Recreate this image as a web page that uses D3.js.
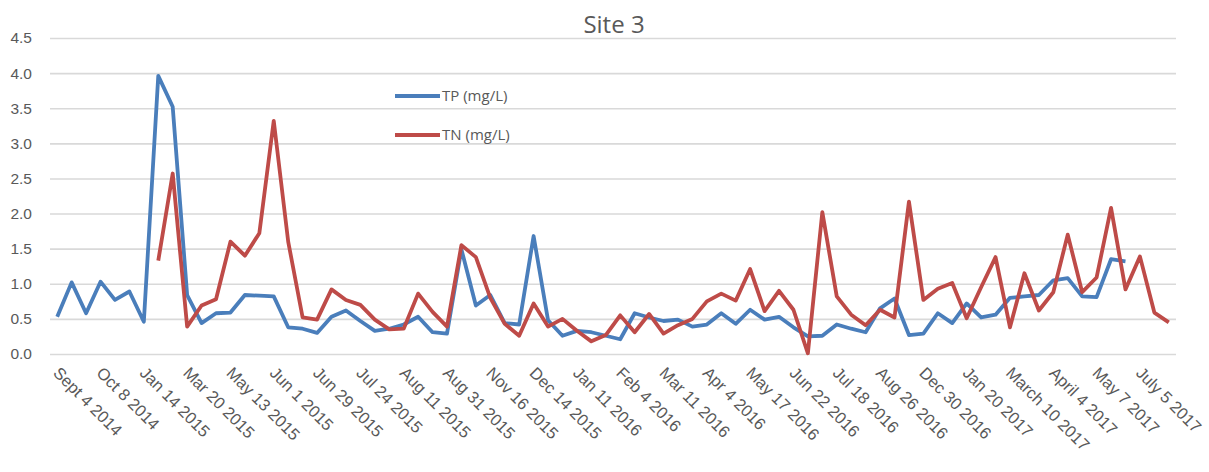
<!DOCTYPE html>
<html>
<head>
<meta charset="utf-8">
<script src="https://cdn.jsdelivr.net/npm/d3@7"></script>
<style>
  html, body { margin: 0; padding: 0; background: #fff; }
  svg { display: block; font-family: "Open Sans", "Noto Sans", sans-serif; }
</style>
</head>
<body>
<svg id="chart" width="1209" height="472"></svg>
<script>
// Sampling dates shown on the axis (every third sample carries a label)
const tickLabels = [
  "Sept 4 2014", "Oct 8 2014", "Jan 14 2015", "Mar 20 2015", "May 13 2015",
  "Jun 1 2015", "Jun 29 2015", "Jul 24 2015", "Aug 11 2015", "Aug 31 2015",
  "Nov 16 2015", "Dec 14 2015", "Jan 11 2016", "Feb 4 2016", "Mar 11 2016",
  "Apr 4 2016", "May 17 2016", "Jun 22 2016", "Jul 18 2016", "Aug 26 2016",
  "Dec 30 2016", "Jan 20 2017", "March 10 2017", "April 4 2017", "May 7 2017",
  "July 5 2017"
];
const labelEvery = 3;

// Total phosphorus (mg/L), one value per sample; null = not sampled
const tpValues = [
  0.53, 1.02, 0.58, 1.03, 0.77, 0.89, 0.46, 3.96, 3.52, 0.84,
  0.44, 0.58, 0.59, 0.84, 0.83, 0.82, 0.38, 0.36, 0.30, 0.53,
  0.62, 0.47, 0.33, 0.36, 0.42, 0.53, 0.31, 0.29, 1.49, 0.69,
  0.84, 0.44, 0.42, 1.68, 0.48, 0.26, 0.33, 0.31, 0.26, 0.21,
  0.58, 0.52, 0.47, 0.49, 0.39, 0.42, 0.58, 0.43, 0.63, 0.49,
  0.53, 0.38, 0.25, 0.26, 0.42, 0.36, 0.31, 0.65, 0.79, 0.27,
  0.29, 0.58, 0.44, 0.72, 0.52, 0.56, 0.80, 0.82, 0.84, 1.05,
  1.08, 0.82, 0.81, 1.35, 1.32, null, null, null
];

// Total nitrogen (mg/L), one value per sample; null = not sampled
const tnValues = [
  null, null, null, null, null, null, null, 1.33, 2.57, 0.39,
  0.69, 0.78, 1.60, 1.40, 1.72, 3.32, 1.60, 0.52, 0.49, 0.92,
  0.77, 0.70, 0.49, 0.35, 0.36, 0.86, 0.60, 0.39, 1.55, 1.38,
  0.80, 0.43, 0.26, 0.72, 0.39, 0.50, 0.33, 0.18, 0.27, 0.55,
  0.31, 0.57, 0.29, 0.41, 0.50, 0.75, 0.86, 0.76, 1.21, 0.61,
  0.90, 0.63, 0.01, 2.02, 0.82, 0.56, 0.41, 0.63, 0.52, 2.17,
  0.77, 0.93, 1.01, 0.51, 0.95, 1.38, 0.38, 1.15, 0.62, 0.88,
  1.70, 0.88, 1.09, 2.08, 0.92, 1.39, 0.59, 0.45
];

const yTicks = [0, 0.5, 1, 1.5, 2, 2.5, 3, 3.5, 4, 4.5];

const series = [
  { name: "TP (mg/L)", values: tpValues, color: "#4A7EBB" },
  { name: "TN (mg/L)", values: tnValues, color: "#BE4B48" }
];

const svg = d3.select("#chart");
const margin = { left: 50, right: 33, top: 38, bottom: 118 };
const W = 1209, H = 472;

const samples = d3.range(tpValues.length);
const x = d3.scaleBand().domain(samples).range([margin.left, W - margin.right]).padding(0);
const cx = i => x(i) + x.bandwidth() / 2;
const y = d3.scaleLinear().domain([0, 4.5]).range([H - margin.bottom, margin.top]);

const textColor = "#595959";

// Horizontal gridlines with value labels
const yAxis = d3.axisLeft(y)
  .tickValues(yTicks)
  .tickFormat(d3.format(".1f"))
  .tickSize(-(W - margin.left - margin.right))
  .tickPadding(18);
const gy = svg.append("g").attr("transform", `translate(${margin.left},0)`).call(yAxis);
gy.select(".domain").remove();
gy.selectAll(".tick line").attr("stroke", "#d9d9d9").attr("stroke-width", 1.6);
gy.selectAll(".tick text")
  .attr("fill", textColor)
  .style("font-size", "15.5px");

// Category axis with slanted date labels
const xAxis = d3.axisBottom(x)
  .tickValues(samples.filter(i => i % labelEvery === 0))
  .tickFormat(i => tickLabels[i / labelEvery])
  .tickSize(0)
  .tickPadding(0);
const gx = svg.append("g").attr("transform", `translate(0,${H - margin.bottom})`).call(xAxis);
gx.select(".domain").remove();
gx.selectAll(".tick text")
  .attr("fill", textColor)
  .style("font-size", "16.5px")
  .attr("text-anchor", "start")
  .attr("x", 0)
  .attr("y", 0)
  .attr("dy", 0)
  .attr("transform", "translate(-5,20) rotate(45)");

// Data lines
const line = d3.line()
  .defined(d => d != null)
  .x((d, i) => cx(i))
  .y(d => y(d));

svg.append("g")
  .selectAll("path")
  .data(series)
  .join("path")
  .attr("fill", "none")
  .attr("stroke", d => d.color)
  .attr("stroke-width", 3.8)
  .attr("stroke-linejoin", "round")
  .attr("d", d => line(d.values));

// Legend
const legend = svg.append("g").attr("transform", "translate(395,96)");
const items = legend.selectAll("g")
  .data(series)
  .join("g")
  .attr("transform", (d, i) => `translate(0,${i * 39})`);
items.append("line")
  .attr("x1", 0).attr("x2", 45)
  .attr("stroke", d => d.color)
  .attr("stroke-width", 3.8);
items.append("text")
  .attr("x", 47)
  .attr("dy", "0.35em")
  .attr("fill", textColor)
  .style("font-size", "15px")
  .text(d => d.name);

// Title
svg.append("text")
  .attr("x", 614)
  .attr("y", 33)
  .attr("text-anchor", "middle")
  .attr("fill", textColor)
  .style("font-size", "24px")
  .text("Site 3");
</script>
</body>
</html>
